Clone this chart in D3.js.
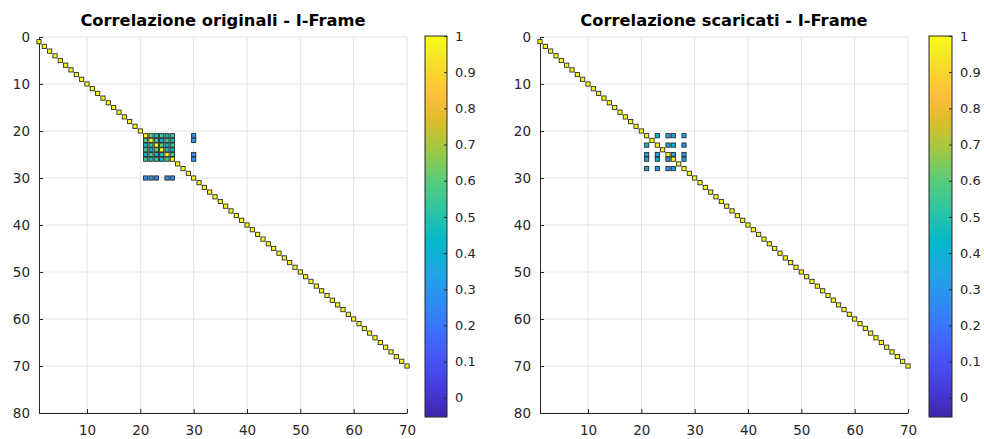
<!DOCTYPE html>
<html>
<head>
<meta charset="utf-8">
<script src="https://cdn.jsdelivr.net/npm/d3@7"></script>
<style>
  html, body { margin: 0; padding: 0; background: #fff; }
  svg text { font-family: "DejaVu Sans", sans-serif; }
</style>
</head>
<body>
<svg id="chart" width="984" height="439"></svg>
<script>
// ---------------- DATA ----------------
const titles = ["Correlazione originali - I-Frame", "Correlazione scaricati - I-Frame"];
const xTicks = [10, 20, 30, 40, 50, 60, 70];
const yTicks = [0, 10, 20, 30, 40, 50, 60, 70, 80];
const cbTicks = [0, 0.1, 0.2, 0.3, 0.4, 0.5, 0.6, 0.7, 0.8, 0.9, 1];
const cbLimits = [-0.053, 1];

// diagonal (self correlation = 1)
const diagIdx = [1,2,3,4,5,6,7,8,9,10,11,12,13,14,15,16,17,18,19,20,
  21,22,23,24,25,26,27,28,29,30,31,32,33,34,35,36,37,38,39,40,
  41,42,43,44,45,46,47,48,49,50,51,52,53,54,55,56,57,58,59,60,
  61,62,63,64,65,66,67,68,69,70];

// off-diagonal entries, original streams
const origRows = [21,21,21,21,21, 22,22,22,22,22, 23,23,23,23,23, 24,24,24,24,24, 25,25,25,25,25, 26,26,26,26,26,
                  30,30,30,30,30, 21,22,25,26];
const origCols = [22,23,24,25,26, 21,23,24,25,26, 21,22,24,25,26, 21,22,23,25,26, 21,22,23,24,26, 21,22,23,24,25,
                  21,22,23,25,26, 30,30,30,30];
const origVals = [0.58,0.47,0.55,0.44,0.53, 0.58,0.52,0.38,0.56,0.46, 0.47,0.52,0.60,0.40,0.55, 0.55,0.38,0.60,0.48,0.42,
                  0.44,0.56,0.40,0.48,0.57, 0.53,0.46,0.55,0.42,0.57,
                  0.26,0.28,0.25,0.27,0.26, 0.27,0.29,0.26,0.28];

// off-diagonal entries, downloaded streams
const dlRows = [21,21,21,21, 23,23,23,23, 25,25,25,25, 26,26,26,26, 28,28,28,28];
const dlCols = [23,25,26,28, 21,25,26,28, 21,23,26,28, 21,23,25,28, 21,23,25,26];
const dlVals = [0.42,0.33,0.35,0.36, 0.42,0.38,0.40,0.30, 0.33,0.38,0.32,0.30, 0.35,0.40,0.32,0.31, 0.36,0.30,0.30,0.31];

// parula colormap stops
const parulaStops = [
  [0.2422,0.1504,0.6603],[0.2706,0.2147,0.8364],[0.2810,0.3228,0.9579],[0.2440,0.4358,0.9988],
  [0.1764,0.5499,0.9520],[0.1248,0.6459,0.8883],[0.0036,0.7203,0.7917],[0.1717,0.7670,0.6554],
  [0.3406,0.8008,0.4789],[0.6174,0.7876,0.2612],[0.8634,0.7406,0.1596],[0.9956,0.7434,0.2371],
  [0.9892,0.8136,0.1885],[0.9610,0.8890,0.1537],[0.9769,0.9839,0.0805]];
const parulaPos = [0,4,9,14,19,24,29,34,39,44,49,53,56,59,63].map(i => i/63);

// ---------------- DRAW ----------------
const svg = d3.select("#chart");
const textColor = "#262626";
const parulaRGB = parulaStops.map(c => d3.rgb(c[0]*255, c[1]*255, c[2]*255));
const cmapT = d3.scaleLinear().domain(parulaPos).range(parulaRGB).interpolate(d3.interpolateRgb).clamp(true);
const colorOf = v => cmapT((v - cbLimits[0]) / (cbLimits[1] - cbLimits[0]));

const panels = [
  {x0: 39, x1: 407, cbX: 425, cbW: 22, title: titles[0], rows: origRows, cols: origCols, vals: origVals},
  {x0: 540, x1: 908, cbX: 929, cbW: 23, title: titles[1], rows: dlRows, cols: dlCols, vals: dlVals}
];
const yTop = 37, yBot = 413;

panels.forEach((p, pi) => {
  const g = svg.append("g");
  const x = d3.scaleLinear().domain([1, 70]).range([p.x0, p.x1]);
  const y = d3.scaleLinear().domain([0, 80]).range([yTop, yBot]);

  // grid
  g.append("g").selectAll("line.gx").data(xTicks).join("line")
    .attr("x1", d => x(d)).attr("x2", d => x(d)).attr("y1", yTop).attr("y2", yBot)
    .attr("stroke", "#e3e3e3").attr("stroke-width", 1);
  g.append("g").selectAll("line.gy").data(yTicks).join("line")
    .attr("x1", p.x0).attr("x2", p.x1).attr("y1", d => y(d)).attr("y2", d => y(d))
    .attr("stroke", "#e3e3e3").attr("stroke-width", 1);

  // axes
  const xAxis = d3.axisBottom(x).tickValues(xTicks).tickSizeInner(-4).tickSizeOuter(0).tickPadding(12);
  const gx = g.append("g").attr("transform", `translate(0,${yBot})`).call(xAxis);
  const yAxis = d3.axisLeft(y).tickValues(yTicks).tickSizeInner(-4).tickSizeOuter(0).tickPadding(9);
  const gy = g.append("g").attr("transform", `translate(${p.x0},0)`).call(yAxis);
  [gx, gy].forEach(a => {
    a.select(".domain").attr("stroke", textColor).attr("stroke-width", 1);
    a.selectAll(".tick line").attr("stroke", textColor);
    a.selectAll(".tick text").attr("fill", textColor).attr("font-size", 13.5)
      .attr("font-family", "DejaVu Sans, sans-serif");
  });

  // points: off-diagonal first, then diagonal on top
  const pts = p.rows.map((r, i) => ({r: r, c: p.cols[i], v: p.vals[i]}));
  diagIdx.forEach(d => pts.push({r: d, c: d, v: 1}));
  const s = 4.2;
  g.append("g").selectAll("rect").data(pts).join("rect")
    .attr("x", d => x(d.c) - s/2).attr("y", d => y(d.r) - s/2)
    .attr("width", s).attr("height", s)
    .attr("fill", d => colorOf(d.v))
    .attr("stroke", "#2a2a2a").attr("stroke-width", 0.9);

  // title
  svg.append("text").attr("x", (p.x0 + p.x1) / 2).attr("y", 26)
    .attr("text-anchor", "middle").attr("font-weight", "bold").attr("font-size", 16.3)
    .attr("fill", "#000").text(p.title);

  // colorbar
  const cbTop = 36, cbBot = 417;
  const cy = d3.scaleLinear().domain(cbLimits).range([cbBot, cbTop]);
  const gradId = "grad" + pi;
  const grad = svg.append("defs").append("linearGradient").attr("id", gradId)
    .attr("x1", 0).attr("y1", 1).attr("x2", 0).attr("y2", 0);
  parulaPos.forEach((t, i) => grad.append("stop").attr("offset", t).attr("stop-color", parulaRGB[i]));
  svg.append("rect").attr("x", p.cbX).attr("y", cbTop).attr("width", p.cbW).attr("height", cbBot - cbTop)
    .attr("fill", `url(#${gradId})`).attr("stroke", textColor).attr("stroke-width", 1);
  const cbAxis = d3.axisRight(cy).tickValues(cbTicks).tickSizeInner(-3).tickSizeOuter(0).tickPadding(8)
    .tickFormat(d3.format("~g"));
  const gcb = svg.append("g").attr("transform", `translate(${p.cbX + p.cbW},0)`).call(cbAxis);
  gcb.select(".domain").remove();
  gcb.selectAll(".tick line").attr("stroke", textColor);
  gcb.selectAll(".tick text").attr("fill", textColor).attr("font-size", 13)
    .attr("font-family", "DejaVu Sans, sans-serif");
});
</script>
</body>
</html>
